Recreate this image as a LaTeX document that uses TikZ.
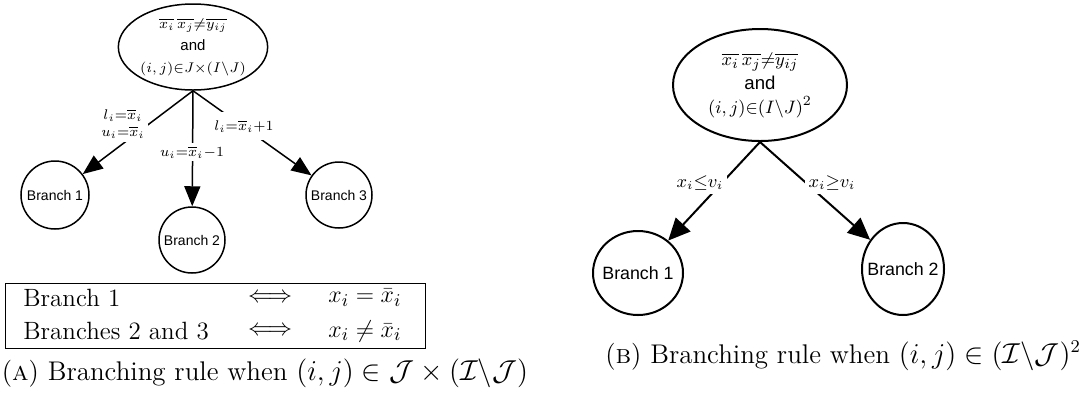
\documentclass[tikz,border=0pt]{standalone}
\usepackage{fontspec}
\newfontfamily\arial{Liberation Sans}
\usetikzlibrary{shapes.geometric,arrows.meta}
\begin{document}
\begin{tikzpicture}[x=0.5pt,y=-0.5pt,
  ellA/.style={draw, ellipse, line width=0.75pt, inner sep=0pt, align=center, font=\fontsize{7.5}{11}\selectfont},
  circA/.style={draw, circle, line width=0.75pt, inner sep=0pt, font=\arial\fontsize{7}{8}\selectfont},
  arrA/.style={line width=0.75pt, -{Triangle[length=10pt,width=8pt]}},
  lblA/.style={fill=white, inner sep=1.5pt, align=center, font=\fontsize{7}{8.5}\selectfont},
  ellB/.style={draw, ellipse, line width=1pt, inner sep=0pt, align=center, font=\fontsize{9.3}{12}\selectfont},
  nodeB/.style={draw, ellipse, line width=1pt, inner sep=0pt},
  nodeBtxt/.style={inner sep=0pt, font=\arial\fontsize{8.9}{10}\selectfont},
  arrB/.style={line width=1pt, -{Triangle[length=11pt,width=10pt]}},
  lblB/.style={fill=white, inner sep=2pt, font=\fontsize{9}{10}\selectfont},
  tabtxt/.style={inner sep=0pt, font=\fontsize{12.5}{14}\selectfont},
  captxt/.style={inner sep=0pt, font=\fontsize{13.5}{15}\selectfont}]
\useasboundingbox (0,0) rectangle (1080,398);
% ---------- left diagram ----------
\node[ellA, minimum width=70pt, minimum height=43pt] (topA) at (193,47)
  {$\overline{x_i}\,\overline{x_j}{\neq}\overline{y_{ij}}$\\{\arial and}\\$(i,j){\in}J{\times}(I\backslash J)$};
\node[circA, minimum size=34pt] (b1A) at (55,195) {Branch 1};
\node[circA, minimum size=33pt] (b2A) at (192,240) {Branch 2};
\node[circA, minimum size=33pt] (b3A) at (339,195) {Branch 3};
\draw[arrA] (topA.south) -- (b1A);
\draw[arrA] (topA.south) -- (b2A);
\draw[arrA] (topA.south) -- (b3A);
\node[lblA] (l1A) at (123,124) {$l_i{=}\overline{x}_i$\\$u_i{=}\overline{x}_i$};
\node[lblA] (l2A) at (192,152) {$u_i{=}\overline{x}_i{-}1$};
\node[lblA, inner ysep=4pt] (l3A) at (244,126) {$l_i{=}\overline{x}_i{+}1$};
% table
\node[draw, line width=0.4pt, minimum width=210pt, minimum height=32.5pt, inner sep=0pt] (tbl) at (215,315.5) {};
\node[tabtxt, anchor=west] (r1c1) at (23,298) {Branch 1};
\node[tabtxt] (r1c2) at (270,298) {$\Longleftrightarrow$};
\node[tabtxt, anchor=west] (r1c3) at (328,298) {$x_i = \bar{x}_i$};
\node[tabtxt, anchor=west] (r2c1) at (23,331) {Branches 2 and 3};
\node[tabtxt] (r2c2) at (270,331) {$\Longleftrightarrow$};
\node[tabtxt, anchor=west] (r2c3) at (328,331) {$x_i \neq \bar{x}_i$};
\node[captxt] (capA) at (265,373) {(\textsc{a}) Branching rule when $(i,j)\in\mathcal{J}\times(\mathcal{I}\backslash\mathcal{J})$};
% ---------- right diagram ----------
\node[ellB, minimum width=87pt, minimum height=56pt] (topB) at (760,85)
  {$\overline{x_i}\,\overline{x_j}{\neq}\overline{y_{ij}}$\\{\arial and}\\$(i,j){\in}(I\backslash J)^2$};
\node[nodeB, minimum width=45pt, minimum height=42pt] (b1B) at (638,273) {};
\node[nodeBtxt] (t1B) at (b1B.center) {Branch 1};
\node[nodeB, minimum width=41pt, minimum height=46pt] (b2B) at (903,269) {};
\node[nodeBtxt] (t2B) at (b2B.center) {Branch 2};
\draw[arrB] (topB.south) -- (b1B);
\draw[arrB] (topB.south) -- (b2B);
\node[lblB] (l1B) at (700,183) {$x_i{\leq}v_i$};
\node[lblB] (l2B) at (832,183) {$x_i{\geq}v_i$};
\node[captxt] (capB) at (843,356) {(\textsc{b}) Branching rule when $(i,j)\in(\mathcal{I}\backslash\mathcal{J})^2$};
\end{tikzpicture}
\end{document}
